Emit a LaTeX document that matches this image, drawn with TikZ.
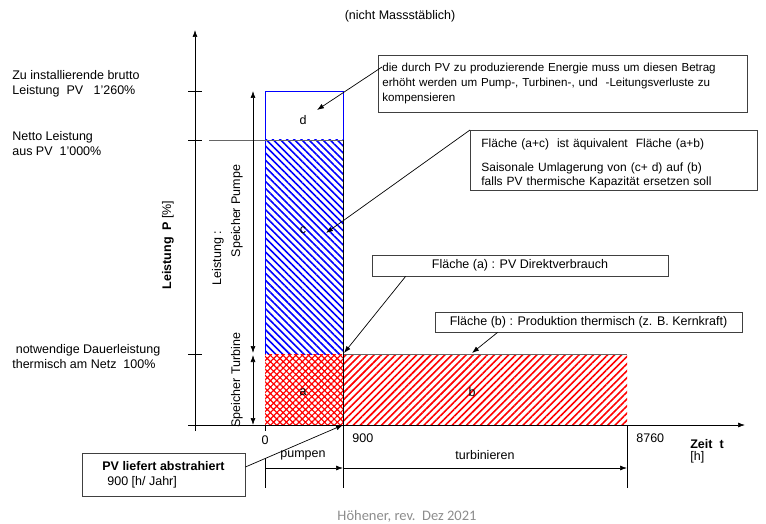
\documentclass[tikz,border=0pt]{standalone}
\usepackage{fontspec}
\setmainfont{Liberation Sans}
\newfontfamily\fussfont{Carlito}
\usetikzlibrary{patterns.meta, positioning, arrows.meta}

\begin{document}
\begin{tikzpicture}[>={Latex[length=7pt,width=5pt]}, x=1pt, y=-1pt, line width=0.7pt,
    every node/.style={font=\fontsize{12.5}{15}\selectfont, inner sep=0pt},
    kasten/.style={draw=black!75, line width=0.8pt},
    blaustreif/.style={pattern={Lines[angle=-45,distance=5pt,line width=1.6pt]}, pattern color=blue},
    rotstreif/.style={pattern={Lines[angle=45,distance=5pt,line width=1.6pt]}, pattern color=red},
    rotgitter/.style={pattern={Hatch[angle=45,distance=4.5pt,line width=1.2pt]}, pattern color=red}]
    \useasboundingbox (0,0) rectangle (766,524);

    % 1. Flächen a, b, c, d
    \fill[blaustreif] (265,140) rectangle (343,354);
    \fill[rotgitter] (265,354) rectangle (343,425);
    \fill[rotstreif] (343,354) rectangle (627,425);
    \draw[blue] (265,140) |- (343,91) -- (343,140);
    \draw[blue] (265,140) -- (265,354);
    \draw[black!60] (209,140) -- (343,140);
    \draw[black!60] (343,354) -- (627,354);
    \node (a) at (303,392) {a};
    \node (b) at (472,392) {b};
    \node (c) at (303,230) {c};
    \node (d) at (303,120) {d};

    % 2. Achsen
    \draw[->] (195,431) -- (195,30);
    \draw[->] (188,425) -- (745,425);
    \foreach \y in {91,140,354} {
        \draw (188,\y) -- (202,\y);
    }
    \draw (265,425) -- (265,431);
    \node (null) at (265,440) {0};
    \node[anchor=west] (t900) at (352,438) {900};
    \node[anchor=west] (t8760) at (636,438) {8760};
    \node[anchor=west] (zeit) at (690,444) {\textbf{Zeit\ \ t}};
    \node[anchor=west] (einheit) at (690,457) {[h]};
    \node[rotate=90] (leistung) at (168,245) {\textbf{Leistung\ \ P} [\%]};

    % 3. Beschriftung links
    \node[anchor=west, align=left] (brutto) at (12,83.5) {Zu installierende brutto\\Leistung\ \ PV\ \ \ 1'260\%};
    \node[anchor=west, align=left] (netto) at (12,144) {Netto Leistung\\aus PV\ \ 1'000\%};
    \node[anchor=west, align=left] (dauer) at (12,356.5) {\ notwendige Dauerleistung\\thermisch am Netz\ \ 100\%};
    \node (titel) at (400,16) {(nicht Massstäblich)};

    % 4. Speicher
    \draw[<->] (253,91) -- (253,353);
    \draw[<->] (253,355) -- (253,425);
    \node[rotate=90] (spl) at (218,258) {Leistung :};
    \node[rotate=90] (pumpe) at (237,211) {Speicher Pumpe};
    \node[rotate=90] (turbine) at (237,380) {Speicher Turbine};

    % 5. Zeitabschnitte
    \draw (265,458) -- (265,488);
    \draw (343,140) -- (343,488);
    \draw (627,425) -- (627,488);
    \draw[->] (265,468) -- (343,468);
    \draw[->] (343,468) -- (627,468);
    \node (pumpen) at (303,455) {pumpen};
    \node (turbinieren) at (485,455) {turbinieren};

    % 6. Legenden mit Pfeilen
    \coordinate (zielD) at (317,110);
    \coordinate (zielC) at (326,233);
    \coordinate (zielA) at (344,353);
    \coordinate (zielB) at (472,353);
    \coordinate (zielPV) at (343,425);
    \node[kasten, anchor=north west, text width=361pt, align=left, inner xsep=4pt, minimum height=57pt,
          font=\fontsize{11.6}{15}\selectfont] (betrag) at (378,55)
        {die durch PV zu produzierende Energie muss um diesen Betrag\\erhöht werden um Pump-, Turbinen-, und\ \ -Leitungsverluste zu\\kompensieren};
    \node[kasten, anchor=north west, text width=265pt, align=left, inner xsep=11pt, inner ysep=2.5pt,
          font=\fontsize{12}{14}\selectfont] (umlagerung) at (470,130)
        {\rule{0pt}{15pt}Fläche (a+c)\ \ ist äquivalent\ \ Fläche (a+b)\\[10pt]Saisonale Umlagerung von (c+ d) auf (b)\\falls PV thermische Kapazität ersetzen soll};
    \node[kasten, minimum width=296pt, minimum height=21pt] (direkt) at (520,265.5) {Fläche (a) : PV Direktverbrauch};
    \node[kasten, minimum width=307pt, minimum height=20pt] (thermisch) at (588.5,322) {Fläche (b) : Produktion thermisch (z. B. Kernkraft)};
    \node[kasten, minimum width=163pt, minimum height=43pt, align=left] (abstr) at (163.5,474.5)
        {\textbf{PV liefert abstrahiert}\\\hspace{5pt}900 [h/ Jahr]};
    \draw[->] ([xshift=4pt,yshift=-12pt]betrag.north west) -- (zielD);
    \draw[->] (umlagerung.north west) -- (zielC);
    \draw[->] ([xshift=34pt]direkt.south west) -- (zielA);
    \draw[->] ([xshift=63pt]thermisch.south west) -- (zielB);
    \draw[->] ([yshift=7.5pt]abstr.east) -- (zielPV);

    \node[font=\fussfont\fontsize{14.5}{16}\selectfont, text=black!45] (fuss) at (407,516) {Höhener, rev.\ \ Dez 2021};
\end{tikzpicture}
\end{document}
